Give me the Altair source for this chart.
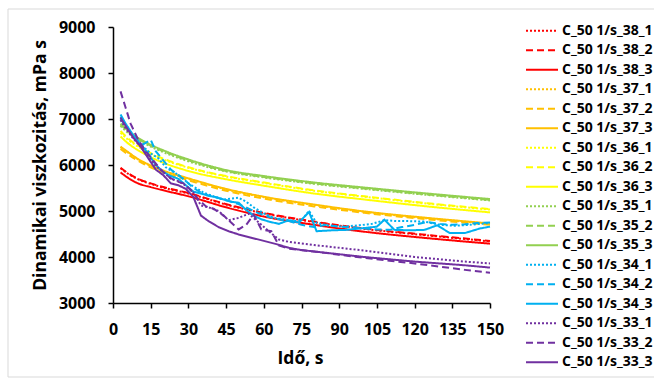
import altair as alt
import pandas as pd

names = [
    "C_50 1/s_38_1", "C_50 1/s_38_2", "C_50 1/s_38_3",
    "C_50 1/s_37_1", "C_50 1/s_37_2", "C_50 1/s_37_3",
    "C_50 1/s_36_1", "C_50 1/s_36_2", "C_50 1/s_36_3",
    "C_50 1/s_35_1", "C_50 1/s_35_2", "C_50 1/s_35_3",
    "C_50 1/s_34_1", "C_50 1/s_34_2", "C_50 1/s_34_3",
    "C_50 1/s_33_1", "C_50 1/s_33_2", "C_50 1/s_33_3",
]
colors = (["#FF0000"] * 3 + ["#FFC000"] * 3 + ["#FFFF00"] * 3 +
          ["#92D050"] * 3 + ["#00B0F0"] * 3 + ["#7030A0"] * 3)
dashes = [[2, 2], [7, 4], [1, 0]] * 6

x_ticks = [0, 15, 30, 45, 60, 75, 90, 105, 120, 135, 150]
y_ticks = [3000, 4000, 5000, 6000, 7000, 8000, 9000]

# smooth series (common time grid)
t_smooth = [3, 6, 10, 15, 20, 30, 45, 60, 80, 100, 125, 150]
s38_1 = [5930, 5810, 5690, 5590, 5510, 5380, 5140, 4950, 4760, 4610, 4470, 4340]
s38_2 = [5940, 5820, 5700, 5600, 5520, 5390, 5150, 4960, 4770, 4620, 4480, 4350]
s38_3 = [5840, 5720, 5600, 5520, 5450, 5320, 5080, 4880, 4700, 4550, 4410, 4290]
s37_1 = [6390, 6270, 6120, 5980, 5870, 5700, 5470, 5300, 5130, 4980, 4840, 4720]
s37_2 = [6350, 6230, 6090, 5950, 5840, 5670, 5440, 5270, 5100, 4960, 4820, 4700]
s37_3 = [6400, 6280, 6130, 5990, 5880, 5710, 5480, 5310, 5140, 4990, 4850, 4730]
s36_1 = [6700, 6550, 6400, 6240, 6120, 5940, 5750, 5610, 5440, 5310, 5160, 5030]
s36_2 = [6740, 6580, 6420, 6260, 6140, 5950, 5760, 5620, 5450, 5320, 5170, 5040]
s36_3 = [6620, 6470, 6320, 6170, 6050, 5870, 5690, 5550, 5380, 5250, 5100, 4970]
s35_1 = [6850, 6700, 6550, 6400, 6280, 6080, 5860, 5730, 5590, 5480, 5350, 5230]
s35_2 = [6880, 6730, 6570, 6420, 6300, 6100, 5870, 5740, 5600, 5490, 5360, 5240]
s35_3 = [6900, 6750, 6590, 6440, 6320, 6120, 5890, 5760, 5620, 5510, 5380, 5260]

# noisy series (own time grids)
t34_1 = [3, 6, 9, 12, 15, 18, 21, 24, 27, 30, 33, 36, 40, 44, 47, 50, 53, 56, 60, 64, 68,
         72, 75, 78, 81, 86, 92, 98, 103, 108, 113, 118, 124, 130, 136, 142, 150]
s34_1 = [7050, 6800, 6550, 6400, 6250, 6150, 5950, 5850, 5750, 5600, 5500, 5400, 5320, 5250,
         5270, 5290, 5200, 5080, 4950, 4850, 4820, 4780, 4800, 5000, 4740, 4680, 4660, 4690,
         4720, 4800, 4780, 4780, 4770, 4700, 4680, 4700, 4740]
t34_2 = [3, 6, 9, 12, 15, 17, 20, 23, 26, 29, 32, 35, 38, 42, 46, 50, 54, 58, 62, 66, 70, 75,
         80, 85, 90, 95, 100, 105, 110, 115, 120, 125, 130, 135, 140, 145, 150]
s34_2 = [7000, 6780, 6570, 6450, 6550, 6300, 6100, 5900, 5780, 5650, 5500, 5400, 5340, 5280,
         5220, 5150, 5050, 4950, 4870, 4820, 4780, 4700, 4650, 4700, 4660, 4640, 4620, 4600,
         4590, 4650, 4700, 4760, 4720, 4700, 4710, 4740, 4750]
t34_3 = [3, 5, 8, 11, 14, 17, 20, 23, 26, 29, 32, 35, 38, 41, 44, 47, 50, 53, 56, 59, 62, 66,
         70, 74, 78, 81, 87, 93, 100, 105, 108, 112, 118, 124, 129, 134, 140, 146, 150]
s34_3 = [7100, 6900, 6650, 6450, 6250, 6000, 5850, 5760, 5700, 5560, 5420, 5380, 5330, 5300,
         5250, 5200, 5180, 5020, 4900, 4820, 4770, 4720, 4800, 4750, 4980, 4560, 4580, 4590,
         4630, 4660, 4810, 4590, 4580, 4590, 4690, 4520, 4520, 4620, 4660]
t33_1 = [3, 5, 8, 11, 14, 17, 20, 23, 26, 29, 32, 35, 38, 42, 46, 50, 54, 58, 62, 66, 70, 80,
         90, 100, 110, 120, 130, 140, 150]
s33_1 = [6980, 6800, 6580, 6400, 6200, 5980, 5850, 5700, 5650, 5550, 5400, 5120, 5080, 5000,
         4800, 4850, 4940, 4750, 4560, 4380, 4330, 4260, 4200, 4140, 4070, 4000, 3950, 3900, 3860]
t33_2 = [3, 5, 7, 10, 13, 16, 19, 22, 25, 28, 31, 34, 37, 40, 44, 47, 50, 53, 56, 59, 63, 66,
         70, 80, 90, 100, 110, 120, 130, 140, 150]
s33_2 = [7600, 7250, 6900, 6550, 6300, 6100, 5900, 5750, 5650, 5600, 5450, 5250, 5100, 5050,
         4900, 4750, 4600, 4700, 4920, 4600, 4560, 4250, 4180, 4120, 4050, 3980, 3920, 3860,
         3790, 3720, 3660]
t33_3 = [3, 5, 8, 11, 14, 17, 20, 23, 26, 29, 32, 35, 38, 42, 46, 50, 55, 60, 65, 70, 75, 80,
         90, 100, 110, 120, 130, 140, 150]
s33_3 = [7030, 6850, 6600, 6400, 6150, 5900, 5780, 5600, 5560, 5480, 5300, 4900, 4780, 4650,
         4560, 4490, 4420, 4350, 4280, 4200, 4150, 4120, 4060, 4000, 3950, 3900, 3860, 3820, 3770]

smooth_vals = {
    names[0]: s38_1, names[1]: s38_2, names[2]: s38_3,
    names[3]: s37_1, names[4]: s37_2, names[5]: s37_3,
    names[6]: s36_1, names[7]: s36_2, names[8]: s36_3,
    names[9]: s35_1, names[10]: s35_2, names[11]: s35_3,
}
noisy_vals = {
    names[12]: (t34_1, s34_1), names[13]: (t34_2, s34_2), names[14]: (t34_3, s34_3),
    names[15]: (t33_1, s33_1), names[16]: (t33_2, s33_2), names[17]: (t33_3, s33_3),
}

rows_s = []
for n, vals in smooth_vals.items():
    for t, v in zip(t_smooth, vals):
        rows_s.append({"series": n, "t": t, "v": v, "o": t})
rows_n = []
for n, (ts, vs) in noisy_vals.items():
    for t, v in zip(ts, vs):
        rows_n.append({"series": n, "t": t, "v": v, "o": t})
df_s = pd.DataFrame(rows_s)
df_n = pd.DataFrame(rows_n)

FONT = "Open Sans"

x_enc = alt.X("t:Q", scale=alt.Scale(domain=[0, 150], nice=False),
              axis=alt.Axis(values=x_ticks, format="d", labelOverlap=False,
                            title="Idő, s", grid=False,
                            labelFont=FONT, labelFontWeight="bold", labelFontSize=16,
                            labelColor="black", labelPadding=13, labelFlush=False,
                            titleFont=FONT, titleFontWeight="bold", titleFontSize=17.5,
                            titleColor="black", titleX=187, titleY=60,
                            titleBaseline="alphabetic", titleAlign="center",
                            domainColor="black", domainWidth=1.5, tickColor="black",
                            tickWidth=1.5, tickSize=5))
y_enc = alt.Y("v:Q", scale=alt.Scale(domain=[3000, 9000], nice=False, zero=False),
              axis=alt.Axis(values=y_ticks, format="d", labelOverlap=False,
                            title="Dinamikai viszkozitás, mPa s", grid=False,
                            labelFont=FONT, labelFontWeight="bold", labelFontSize=16,
                            labelColor="black", labelPadding=13, labelFlush=False,
                            titleFont=FONT, titleFontWeight="bold", titleFontSize=17.5,
                            titleColor="black", titleX=-68, titleY=138, titleAngle=270,
                            titleBaseline="alphabetic", titleAlign="center",
                            domainColor="black", domainWidth=1.5, tickColor="black",
                            tickWidth=1.5, tickSize=5))
legend = alt.Legend(orient="none", legendX=412, legendY=-5.8, symbolType="stroke",
                    symbolSize=1024, symbolStrokeWidth=2, clipHeight=19, rowPadding=0.5,
                    labelOffset=3, labelFont=FONT, labelFontWeight="bold", labelFontSize=14,
                    labelColor="black", padding=0, labelLimit=200)
color_enc = alt.Color("series:N", scale=alt.Scale(domain=names, range=colors),
                      legend=legend, title=None)
dash_enc = alt.StrokeDash("series:N", scale=alt.Scale(domain=names, range=dashes),
                          legend=legend, title=None)

smooth = alt.Chart(df_s).mark_line(interpolate="monotone", strokeWidth=2).encode(
    x=x_enc, y=y_enc, color=color_enc, strokeDash=dash_enc, order="o:Q")
noisy = alt.Chart(df_n).mark_line(strokeWidth=2).encode(
    x=x_enc, y=y_enc, color=color_enc, strokeDash=dash_enc, order="o:Q")

frame = alt.Chart(pd.DataFrame({"k": [0]})).mark_rect(
    fill="transparent", stroke="#D9D9D9", strokeWidth=1).encode(
    x=alt.value(-105), x2=alt.value(580), y=alt.value(-18), y2=alt.value(350))

chart = alt.layer(frame, smooth, noisy).properties(
    width=377, height=276,
    padding={"left": 113, "top": 27, "right": 164, "bottom": 77},
    autosize=alt.AutoSizeParams(type="none"),
    background="white",
).configure_view(stroke=None)

chart.save("out.html", embed_options={"renderer": "svg", "actions": False})
